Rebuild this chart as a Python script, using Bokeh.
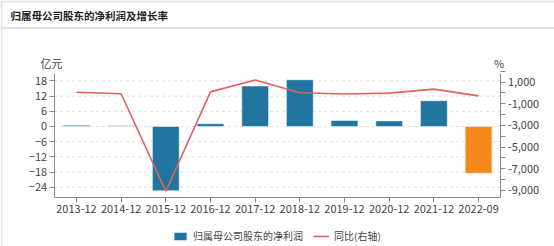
from bokeh.plotting import figure
from bokeh.models import (Range1d, FactorRange, LinearAxis, FixedTicker, Label, Legend,
                          LegendItem, Span, ColumnDataSource, NumeralTickFormatter)
from bokeh.embed import file_html
from bokeh.resources import INLINE

title_text = "归属母公司股东的净利润及增长率"
categories = ["2013-12", "2014-12", "2015-12", "2016-12", "2017-12",
              "2018-12", "2019-12", "2020-12", "2021-12", "2022-09"]
profit = [0.45, 0.25, -25.4, 1.1, 16.0, 18.5, 2.4, 2.2, 10.2, -18.5]
yoy = [70, -70, -9070, 105, 1200, 16, -87, -8, 360, -265]
left_ticks = [18, 12, 6, 0, -6, -12, -18, -24]
right_ticks = [1000, -1000, -3000, -5000, -7000, -9000]
right_minor = [2000, 0, -2000, -4000, -6000, -8000]
bar_label = "归属母公司股东的净利润"
line_label = "同比(右轴)"

FONT = "Noto Sans CJK SC"
TXT = "#444444"
AX = "#8a8a8a"
BLUE = "#21759f"
ORANGE = "#f5891a"
BORDER = "#e6e6e6"

W, H = 554, 246
# value ranges shown by the axes, and the wider ranges covered by the whole canvas
L_AX = (-27.95, 21.0)
R_AX = (-9620, 1800)
L_VIEW = (-47.45, 49.82)
R_VIEW = (-14174, 8541)

x_range = FactorRange(factors=categories, range_padding=1.2, range_padding_units="absolute")
p = figure(x_range=x_range, y_range=Range1d(*L_VIEW), width=W, height=H,
           output_backend="svg", toolbar_location=None,
           min_border_left=0, min_border_right=0, min_border_top=0, min_border_bottom=0)
p.outline_line_color = None
p.background_fill_color = "white"
p.border_fill_color = "white"
p.extra_y_ranges = {"pct": Range1d(*R_VIEW)}

n = len(categories)

# grid lines limited to the plotting area
p.xgrid.grid_line_color = None
p.ygrid.grid_line_color = None
p.segment(x0=[0] * len(left_ticks), x1=[n] * len(left_ticks), y0=left_ticks, y1=left_ticks,
          line_color="#dedede", line_dash="3 3", line_width=1)

n_actual = n - 1
src_a = ColumnDataSource(dict(x=categories[:n_actual], top=profit[:n_actual]))
src_b = ColumnDataSource(dict(x=categories[n_actual:], top=profit[n_actual:]))
src_l = ColumnDataSource(dict(x=categories, y=yoy))

bars = p.vbar(x="x", top="top", width=0.6, fill_color=BLUE, line_color="white",
              line_alpha=0.5, line_width=1, source=src_a)
p.vbar(x="x", top="top", width=0.6, fill_color=ORANGE, line_color="white",
       line_alpha=0.5, line_width=1, source=src_b)
line = p.line(x="x", y="y", source=src_l, y_range_name="pct", line_color="#e3605f",
              line_width=1.6)

# axes drawn at fixed positions inside the canvas
xa = p.xaxis[0]
xa.fixed_location = L_AX[0]
xa.bounds = (0, n)
ya = p.yaxis[0]
ya.fixed_location = 0
ya.bounds = L_AX
ya.ticker = FixedTicker(ticks=left_ticks)
for ax in [xa, ya]:
    ax.axis_line_color = AX
    ax.major_tick_line_color = AX
    ax.major_tick_out = 5
    ax.major_tick_in = 0
    ax.minor_tick_line_color = None
    ax.major_label_text_font = FONT
    ax.major_label_text_font_size = "11px"
    ax.major_label_text_color = TXT
xa.major_label_standoff = 3
ya.major_label_standoff = 2

rax = LinearAxis(y_range_name="pct", fixed_location=n, bounds=R_AX,
                 ticker=FixedTicker(ticks=right_ticks, minor_ticks=right_minor),
                 formatter=NumeralTickFormatter(format="0,0"))
rax.axis_line_color = AX
rax.major_tick_line_color = AX
rax.minor_tick_line_color = AX
rax.major_tick_out = 5
rax.major_tick_in = 0
rax.minor_tick_out = 5
rax.minor_tick_in = 0
rax.major_label_standoff = 2
rax.major_label_text_font = FONT
rax.major_label_text_font_size = "11px"
rax.major_label_text_color = TXT
p.add_layout(rax, "right")

# card decoration: top border, header separator, left border
p.add_layout(Span(location=H - 1, location_units="screen", dimension="width",
                  line_color=BORDER, line_width=2))
p.add_layout(Span(location=H - 27.5, location_units="screen", dimension="width",
                  line_color="#e2e2e2", line_width=2))
p.add_layout(Span(location=1, location_units="screen", dimension="height",
                  line_color=BORDER, line_width=2))

# header title and unit labels
p.add_layout(Label(x=10, y=H - 15, x_units="screen", y_units="screen", text=title_text,
                   text_align="left", text_baseline="middle", text_font=FONT,
                   text_font_size="10.5px", text_font_style="bold", text_color="#222"))
p.add_layout(Label(x=-0.06, y=25.3, text="亿元", text_align="center", text_baseline="middle",
                   text_font=FONT, text_font_size="11px", text_color=TXT))
p.add_layout(Label(x=n - 0.04, y=25.3, text="%", text_align="center", text_baseline="middle",
                   text_font=FONT, text_font_size="11px", text_color=TXT))

lg = Legend(items=[LegendItem(label=bar_label, renderers=[bars]),
                   LegendItem(label=line_label, renderers=[line])],
            orientation="horizontal", location=(172, 3),
            label_text_font=FONT, label_text_font_size="10px", label_text_color=TXT,
            glyph_width=16, glyph_height=10, label_height=14, spacing=10, padding=4,
            margin=0, label_standoff=5, border_line_color=None, background_fill_alpha=0)
p.add_layout(lg, "center")

open("out.html", "w").write(file_html(p, INLINE))
